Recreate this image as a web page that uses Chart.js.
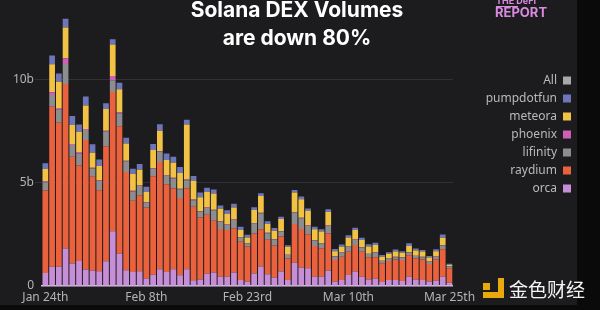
<!DOCTYPE html>
<html>
<head>
<meta charset="utf-8">
<script src="https://cdn.jsdelivr.net/npm/chart.js@4.4.1/dist/chart.umd.min.js"></script>
<style>
  html, body { margin: 0; padding: 0; background: #0a0a0a; }
  #wrap { width: 600px; height: 310px; }
</style>
</head>
<body>
<div id="wrap"><canvas id="dex"></canvas></div>
<script>
// days, Jan 24 -> Mar 25
const days = [
  "Jan 24","Jan 25","Jan 26","Jan 27","Jan 28","Jan 29","Jan 30","Jan 31",
  "Feb 1","Feb 2","Feb 3","Feb 4","Feb 5","Feb 6","Feb 7","Feb 8","Feb 9","Feb 10",
  "Feb 11","Feb 12","Feb 13","Feb 14","Feb 15","Feb 16","Feb 17","Feb 18","Feb 19","Feb 20",
  "Feb 21","Feb 22","Feb 23","Feb 24","Feb 25","Feb 26","Feb 27","Feb 28",
  "Mar 1","Mar 2","Mar 3","Mar 4","Mar 5","Mar 6","Mar 7","Mar 8","Mar 9","Mar 10",
  "Mar 11","Mar 12","Mar 13","Mar 14","Mar 15","Mar 16","Mar 17","Mar 18","Mar 19","Mar 20",
  "Mar 21","Mar 22","Mar 23","Mar 24","Mar 25"
];
const tickIdx = [0, 15, 30, 45, 60];
const tickText = ["Jan 24th", "Feb 8th", "Feb 23rd", "Mar 10th", "Mar 25th"];
const yTicks = [0, 5, 10];

// volumes in billions USD
const orca = [0.63,0.93,0.93,1.82,1.09,1.21,0.80,0.74,0.71,1.20,2.65,1.57,0.76,0.68,0.71,0.36,0.55,0.81,0.68,0.81,
  0.52,0.81,0.28,0.32,0.60,0.66,0.45,0.45,0.65,0.29,0.21,0.61,0.94,0.57,0.40,0.70,0.29,1.13,0.89,0.86,
  0.45,0.45,0.74,0.21,0.29,0.53,0.70,0.45,0.32,0.36,0.19,0.29,0.29,0.24,0.45,0.32,0.29,0.22,0.26,0.45,0.16];
const raydium = [4.00,7.77,6.99,7.98,5.18,4.64,6.28,4.56,3.93,5.58,6.76,6.18,4.77,3.46,3.69,3.45,4.77,5.21,4.26,3.92,
  3.75,3.92,3.56,3.00,2.86,2.50,2.31,2.27,2.15,1.86,1.70,1.94,1.81,1.67,1.57,1.70,1.05,1.88,1.88,1.65,
  1.49,1.38,1.81,1.05,1.13,1.13,1.29,1.21,1.07,1.03,0.91,0.92,1.00,1.02,1.04,1.02,1.00,0.85,1.04,1.33,0.70];
const lifinity = [0.40,0.57,0.65,0.97,0.57,0.57,0.49,0.40,0.45,0.70,0.57,0.61,0.52,0.45,0.45,0.24,0.37,0.49,0.39,0.49,
  0.42,0.40,0.32,0.28,0.32,0.52,0.36,0.24,0.40,0.21,0.16,0.49,0.78,0.32,0.29,0.24,0.16,0.55,0.52,0.40,
  0.26,0.24,0.36,0.16,0.19,0.24,0.24,0.21,0.16,0.23,0.11,0.11,0.11,0.11,0.13,0.11,0.11,0.10,0.11,0.19,0.08];
const phoenix = [0.04,0.13,0.06,0.28,0.05,0.08,0.05,0.04,0.04,0.05,0.21,0.06,0.03,0.03,0.03,0.03,0.03,0.03,0.03,0.03,
  0.03,0.03,0.03,0.03,0.03,0.02,0.02,0.02,0.02,0.02,0.02,0.02,0.02,0.02,0.02,0.02,0.02,0.02,0.02,0.02,
  0.02,0.02,0.02,0.02,0.02,0.02,0.02,0.02,0.02,0.02,0.02,0.02,0.02,0.02,0.02,0.02,0.02,0.02,0.02,0.02,0.02];
const meteora = [0.61,1.36,1.28,1.49,0.92,0.97,1.13,0.72,0.69,1.05,1.52,1.12,0.83,0.81,0.76,0.49,0.89,0.99,0.75,0.73,
  0.76,2.67,0.91,0.67,0.75,0.79,0.61,0.51,0.59,0.34,0.26,0.63,0.82,0.43,0.40,0.59,0.38,0.95,0.90,0.72,
  0.53,0.55,0.66,0.24,0.27,0.43,0.47,0.34,0.34,0.35,0.19,0.22,0.25,0.22,0.30,0.25,0.25,0.19,0.25,0.35,0.06];
const pumpdotfun = [0.27,0.42,0.40,0.42,0.44,0.36,0.44,0.42,0.32,0.28,0.26,0.32,0.28,0.26,0.28,0.24,0.28,0.32,0.32,0.29,
  0.29,0.24,0.23,0.24,0.21,0.19,0.16,0.19,0.18,0.16,0.13,0.13,0.13,0.13,0.13,0.11,0.08,0.13,0.13,0.11,
  0.13,0.11,0.13,0.11,0.11,0.11,0.11,0.11,0.11,0.11,0.08,0.08,0.10,0.08,0.13,0.10,0.08,0.08,0.10,0.16,0.06];

const FONT = "'Noto Sans', sans-serif";

// backgrounds, headline, logos
const decor = {
  id: 'decor',
  beforeDraw(chart) {
    const c = chart.ctx;
    c.save();
    c.fillStyle = '#0a0a0a';
    c.fillRect(0, 0, chart.width, chart.height);
    c.fillStyle = '#1c1c1e';
    c.fillRect(0, 0, 577, 305);
    c.restore();
  },
  afterDraw(chart) {
    const c = chart.ctx;
    c.save();
    c.fillStyle = '#ffffff';
    c.textAlign = 'center';
    c.textBaseline = 'alphabetic';
    c.font = "bold 21px Inter, sans-serif";
    c.fillText('Solana DEX Volumes', 297, 17);
    c.fillText('are down 80%', 297, 45);

    // the defi report mark
    c.fillStyle = '#d98ae0';
    c.textAlign = 'left';
    c.font = "bold 9px Inter, sans-serif";
    c.fillText('THE DeFi', 496, 4);
    c.fillRect(496, 6, 22, 1);
    c.font = "bold 13px Inter, sans-serif";
    c.fillText('REPORT', 495, 17);

    // watermark
    c.fillStyle = '#e8a90c';
    c.fillRect(483, 283, 7, 7);
    c.fillRect(498, 278, 6, 20);
    c.fillRect(483, 292, 21, 6);
    c.fillStyle = '#f4f4f4';
    c.font = "19px 'Noto Sans CJK SC', sans-serif";
    c.fillText('金色财经', 509, 297);
    c.restore();
  }
};

function bars(label, data, color) {
  return { label, data, backgroundColor: color, borderWidth: 0,
    barPercentage: 1, categoryPercentage: 0.85 };
}

new Chart(document.getElementById('dex'), {
  type: 'bar',
  data: {
    labels: days,
    datasets: [
      bars('orca', orca, '#c78ed8'),
      bars('raydium', raydium, '#e9623d'),
      bars('lifinity', lifinity, '#8d8d8f'),
      bars('phoenix', phoenix, '#cd5fb4'),
      bars('meteora', meteora, '#f2c245'),
      bars('pumpdotfun', pumpdotfun, '#6c76b8'),
      bars('All', [], '#a9a9a9')
    ]
  },
  options: {
    responsive: true,
    maintainAspectRatio: false,
    animation: false,
    layout: { padding: { top: 18, right: 23, bottom: 5, left: 0 } },
    plugins: {
      title: { display: false },
      tooltip: { enabled: false },
      legend: {
        position: 'right',
        align: 'start',
        reverse: true,
        rtl: true,
        title: { display: true, text: ' ', font: { size: 12 }, padding: { top: 36, bottom: 0 } },
        labels: {
          color: '#b9b9b9',
          font: { family: FONT, size: 12 },
          boxWidth: 8, boxHeight: 8, padding: 6
        }
      }
    },
    scales: {
      x: {
        stacked: true,
        afterFit: s => { s.height = 19; },
        grid: { display: false, drawTicks: false },
        border: { display: true, color: '#d6c4e2', width: 1.5 },
        ticks: {
          color: '#b4b4b4', font: { family: FONT, size: 12 },
          autoSkip: false, maxRotation: 0, padding: 4,
          callback: (v, i) => {
            const k = tickIdx.indexOf(i);
            return k < 0 ? '' : tickText[k];
          }
        }
      },
      y: {
        stacked: true,
        min: 0, max: 13,
        afterBuildTicks: s => { s.ticks = yTicks.map(v => ({ value: v })); },
        afterFit: s => { s.width = 42; },
        grid: {
          color: ctx => ctx.tick && ctx.tick.value === 0 ? 'rgba(0,0,0,0)' : '#313133',
          tickLength: 7
        },
        border: { display: false },
        ticks: {
          color: '#b4b4b4', font: { family: FONT, size: 12 }, padding: 1,
          callback: v => v === 0 ? '0' : v + 'b'
        }
      },
      gap: {
        position: 'right',
        display: true,
        grid: { display: false },
        border: { display: false },
        ticks: { display: false },
        afterFit: s => { s.width = 28; }
      }
    }
  },
  plugins: [decor]
});
</script>
</body>
</html>
